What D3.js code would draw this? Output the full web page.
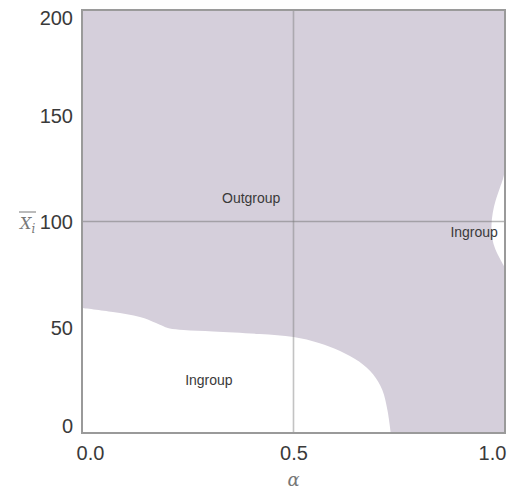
<!DOCTYPE html>
<html>
<head>
<meta charset="utf-8">
<script src="https://cdn.jsdelivr.net/npm/d3@7"></script>
<style>
  html, body { margin: 0; padding: 0; background: #fff; }
  svg { display: block; }
</style>
</head>
<body>
<svg id="chart" width="515" height="493"></svg>
<script>
// ---- data ----
const xTicks = [0, 0.5, 1.0];
const xTickLabels = ["0.0", "0.5", "1.0"];
const yTicks = [0, 50, 100, 150, 200];
const yTickLabels = ["0", "50", "100", "150", "200"];
// lower-left Ingroup boundary (alpha, mean x)
const lowerAlpha = [0.000, 0.073, 0.137, 0.175, 0.205, 0.240, 0.310, 0.420, 0.500, 0.560, 0.610, 0.655, 0.688, 0.710, 0.722, 0.730];
const lowerValue = [59.1, 57.2, 54.8, 52.0, 49.5, 48.7, 48.0, 46.8, 45.4, 42.6, 38.8, 33.8, 27.8, 20.3, 10.9, 0.0];
// right Ingroup bulge (mean x, alpha of left edge)
const rightValue = [78.0, 82.0, 87.0, 92.0, 98.0, 104.0, 110.0, 116.0, 120.0, 124.0];
const rightAlpha = [1.000, 0.989, 0.977, 0.970, 0.968, 0.971, 0.978, 0.988, 0.995, 1.000];
const regionLabels = ["Outgroup", "Ingroup", "Ingroup"];
const regionAlpha = [0.40, 0.30, 0.927];
const regionValue = [110.5, 24.5, 94.5];

// ---- layout ----
const svg = d3.select("#chart");
const L = 82, R = 505, T = 10, B = 433;
const x = d3.scaleLinear().domain([0, 1]).range([L, R]);
const y = d3.scaleLinear().domain([0, 200]).range([B, T]);

const fillCol = "#d5cfdb";

// background region (Outgroup)
svg.append("rect")
  .attr("x", L).attr("y", T).attr("width", R - L).attr("height", B - T)
  .attr("fill", fillCol);

// lower-left Ingroup
const lower = lowerAlpha.map((a, i) => ({a, v: lowerValue[i]}));
svg.append("path")
  .datum(lower)
  .attr("fill", "#fff")
  .attr("d", d3.area()
    .x(d => x(d.a)).y0(y(0)).y1(d => y(d.v))
    .curve(d3.curveCatmullRom.alpha(0.5)));

// right Ingroup bulge
const right = rightValue.map((v, i) => ({v, a: rightAlpha[i]}));
svg.append("path")
  .datum(right)
  .attr("fill", "#fff")
  .attr("d", d3.area()
    .y(d => y(d.v)).x0(x(1)).x1(d => x(d.a))
    .curve(d3.curveCatmullRom.alpha(0.5)));

// reference lines
svg.append("line")
  .attr("x1", x(0.5)).attr("x2", x(0.5)).attr("y1", y(200)).attr("y2", y(0))
  .attr("stroke", "#7a7a7a").attr("stroke-opacity", 0.45).attr("stroke-width", 1.6);
svg.append("line")
  .attr("x1", x(0)).attr("x2", x(1)).attr("y1", y(100)).attr("y2", y(100))
  .attr("stroke", "#7a7a7a").attr("stroke-opacity", 0.55).attr("stroke-width", 1.6);

// frame
svg.append("rect")
  .attr("x", L).attr("y", T).attr("width", R - L).attr("height", B - T)
  .attr("fill", "none").attr("stroke", "#9a9a9a").attr("stroke-width", 2);

// axes (labels only)
const xAxis = d3.axisBottom(x).tickValues(xTicks).tickSize(0)
  .tickFormat((d, i) => xTickLabels[i]);
const gx = svg.append("g").attr("transform", `translate(0,${B})`).call(xAxis);
gx.select(".domain").remove();
gx.selectAll("text")
  .attr("font-family", "Liberation Sans, Arial, sans-serif")
  .attr("font-size", 20).attr("fill", "#3a3a3a")
  .attr("dy", null).attr("y", 27)
  .attr("text-anchor", "middle")
  .attr("x", (d, i) => i === 0 ? 8 : (i === xTicks.length - 1 ? -13 : 0));

const yAxis = d3.axisLeft(y).tickValues(yTicks).tickSize(0)
  .tickFormat((d, i) => yTickLabels[i]);
const gy = svg.append("g").attr("transform", `translate(${L},0)`).call(yAxis);
gy.select(".domain").remove();
gy.selectAll("text")
  .attr("font-family", "Liberation Sans, Arial, sans-serif")
  .attr("font-size", 20).attr("fill", "#3a3a3a")
  .attr("x", -9)
  .attr("dy", (d, i) => i === 0 ? "-0.05em" : (i === yTicks.length - 1 ? "0.72em" : "0.36em"));

// axis titles
svg.append("text")
  .attr("x", x(0.5)).attr("y", 486)
  .attr("text-anchor", "middle")
  .attr("font-family", "DejaVu Serif, serif").attr("font-style", "italic")
  .attr("font-size", 18).attr("fill", "#777")
  .text("α");

const yl = svg.append("text")
  .attr("x", 20).attr("y", 229)
  .attr("font-family", "DejaVu Serif, serif").attr("font-style", "italic")
  .attr("font-size", 16).attr("fill", "#777");
yl.append("tspan").text("X");
yl.append("tspan").attr("dy", 4).attr("font-size", 12).text("i");
svg.append("line")
  .attr("x1", 19).attr("x2", 36).attr("y1", 212).attr("y2", 212)
  .attr("stroke", "#777").attr("stroke-width", 1);

// region labels
svg.selectAll("text.region")
  .data(regionLabels)
  .enter().append("text")
  .attr("class", "region")
  .attr("x", (d, i) => x(regionAlpha[i]))
  .attr("y", (d, i) => y(regionValue[i]))
  .attr("text-anchor", "middle")
  .attr("dominant-baseline", "middle")
  .attr("font-family", "Liberation Sans, Arial, sans-serif")
  .attr("font-size", 14).attr("fill", "#3a3a3a")
  .text(d => d);
</script>
</body>
</html>
